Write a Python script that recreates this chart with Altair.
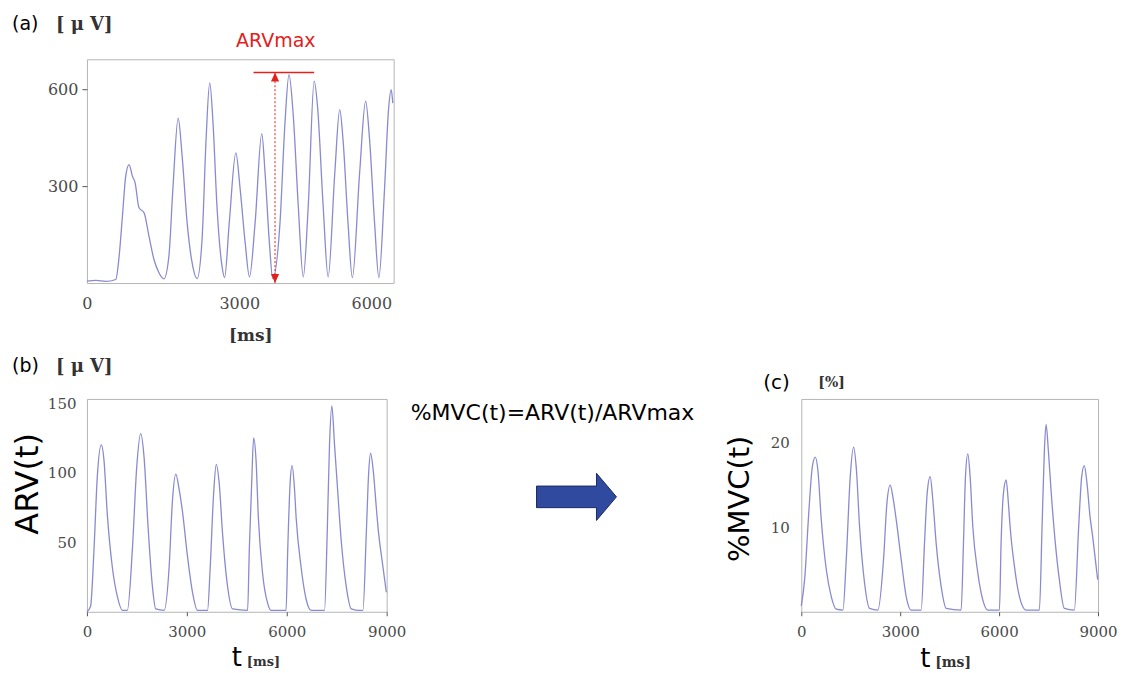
import altair as alt
import pandas as pd

# ---------------- data ----------------
# (a) raw EMG envelope, [uV] vs [ms]
a_t = [0, 176, 372, 568, 634, 699, 764, 830, 895, 947, 1026, 1124, 1222, 1320, 1418, 1516,
       1614, 1692, 1797, 1875, 1973, 2071, 2169, 2267, 2346, 2418, 2483, 2561, 2659, 2711,
       2803, 2933, 3018, 3116, 3201, 3312, 3443, 3508, 3593, 3659, 3802, 3900, 3979, 4064,
       4162, 4260, 4358, 4475, 4541, 4652, 4750, 4881, 4978, 5043, 5141, 5227, 5370, 5488,
       5566, 5664, 5749, 5860, 5939, 5991, 6023]
a_v = [6, 8, 5, 11, 83, 207, 331, 367, 331, 312, 233, 218, 145, 73, 32, 13,
       83, 290, 511, 393, 187, 63, 14, 134, 444, 620, 496, 237, 53, 17,
       187, 403, 290, 125, 19, 187, 463, 341, 125, 14, 187, 496, 645, 517,
       238, 19, 238, 625, 547, 238, 19, 341, 537, 444, 187, 17, 341, 563,
       444, 187, 17, 290, 537, 599, 557]
a_xticks = [0, 3000, 6000]
a_yticks = [300, 600]
arv_max = 652
arv_marker_t = 3704
arv_line_t = [3280, 4475]

# (b) ARV(t), [uV] vs t [ms]
b_t = [0, 110, 211, 311, 432, 512, 612, 763, 913, 1064, 1214,
       1365, 1495, 1615, 1716, 1836, 1967, 2067, 2318,
       2468, 2568, 2669, 2769, 2869, 3019, 3170, 3320, 3621,
       3702, 3802, 3883, 3973, 4073, 4224, 4374, 4825,
       4876, 4946, 5006, 5078, 5147, 5277, 5427, 5528, 5979,
       6030, 6100, 6161, 6231, 6281, 6431, 6582, 6732, 7134,
       7214, 7284, 7354, 7435, 7515, 7636, 7787, 7937, 8137, 8288,
       8388, 8458, 8518, 8599, 8689, 8739, 8890, 8990]
b_v = [0, 4, 44, 97, 120, 109, 70, 32, 11, 1, 1,
       45, 104, 128, 111, 61, 18, 2, 1,
       32, 80, 99, 88, 72, 40, 14, 1, 1,
       32, 84, 106, 92, 56, 18, 2, 1,
       45, 92, 125, 109, 68, 27, 6, 1, 1,
       45, 92, 105, 89, 68, 32, 9, 1, 1,
       56, 120, 148, 120, 92, 51, 18, 2, 1, 1,
       56, 99, 114, 101, 75, 61, 32, 14]
bc_xticks = [0, 3000, 6000, 9000]
b_yticks = [50, 100, 150]

# (c) %MVC(t), [%] vs t [ms]
c_t = [0, 101, 232, 333, 424, 505, 606, 758, 909, 1061, 1263,
       1364, 1485, 1586, 1667, 1768, 1919, 2071, 2323,
       2495, 2596, 2697, 2778, 2879, 3030, 3182, 3333, 3636,
       3737, 3818, 3909, 3990, 4091, 4242, 4394, 4848,
       4919, 4980, 5051, 5121, 5202, 5354, 5505, 5656, 6010,
       6060, 6131, 6212, 6283, 6333, 6464, 6616, 6818, 7222,
       7303, 7373, 7424, 7494, 7575, 7706, 7827, 7979, 8281,
       8414, 8505, 8584, 8666, 8757, 8838, 8990]
c_v = [0.7, 3.8, 12, 17.1, 18.3, 16.7, 10.9, 5, 1.8, 0.3, 0.2,
       6.2, 16, 19.5, 17.1, 10.1, 3.4, 0.4, 0.2,
       6.2, 12.8, 15, 13.6, 10.9, 6.2, 1.8, 0.2, 0.2,
       8.1, 14, 16, 13.2, 8.1, 3, 0.4, 0.2,
       8.1, 16, 18.7, 16, 10.1, 4.6, 1.4, 0.2, 0.2,
       8.1, 14, 15.6, 12.8, 10.1, 5.4, 1.8, 0.2, 0.2,
       10.1, 19.1, 22.2, 19.1, 14.4, 8.1, 3.8, 0.4, 0.2,
       10.1, 16, 17.3, 15.2, 11.3, 8.9, 3.8]
c_yticks = [10, 20]

# ---------------- styling ----------------
SANS = "DejaVu Sans"
SERIF = "DejaVu Serif"
LINE = "#8a8ad0"
RED = "#e3201b"
LABEL = "#4a4a4a"
UNIT = "#333333"
ARROW_UP = "M0,0L-0.9,2L0.9,2Z"
ARROW_DOWN = "M0,0L-0.9,-2L0.9,-2Z"
BLOCK_ARROW = "M-1,-0.27L0.5,-0.27L0.5,-0.59L1,0L0.5,0.59L0.5,0.27L-1,0.27Z"


def label(text, x, y, size, font=SANS, weight="normal", color="black",
          align="left", baseline="middle", angle=0):
    props = dict(fontSize=size, font=font, fontWeight=weight, color=color,
                 align=align, baseline=baseline)
    if angle:
        props["angle"] = angle
    return alt.Chart(pd.DataFrame({"label": [text]})).mark_text(**props).encode(
        text="label:N", x=alt.value(x), y=alt.value(y))


def axis(values, pad, tick, size, last_right=None):
    extra = {}
    if last_right is not None:
        extra["labelAlign"] = {"condition": {"test": f"datum.value >= {last_right}", "value": "right"},
                               "value": "center"}
    return alt.Axis(values=values, title="", format="d", grid=False, domain=False,
                    ticks=tick > 0, tickSize=tick, tickColor="#555555",
                    labelPadding=pad, labelFont=SERIF, labelFontSize=size,
                    labelColor=LABEL, labelFlush=False, **extra)


# ---------------- panel (a) ----------------
A_W, A_H = 307, 224
xa = alt.X("t:Q", scale=alt.Scale(domain=[0, 6040], nice=False, zero=False),
           axis=axis(a_xticks, 12, 0, 16, last_right=a_xticks[-1]))
ya = alt.Y("v:Q", scale=alt.Scale(domain=[0, 693], nice=False),
           axis=axis(a_yticks, 4, 5, 16))

line_a = alt.Chart(pd.DataFrame({"t": a_t, "v": a_v})).mark_line(
    color=LINE, strokeWidth=1.3, interpolate="monotone").encode(x=xa, y=ya)
hline = alt.Chart(pd.DataFrame({"t": [arv_line_t[0]], "t2": [arv_line_t[1]], "v": [arv_max]})).mark_rule(
    color=RED, strokeWidth=1.5).encode(x=xa, x2="t2:Q", y=ya)
vline = alt.Chart(pd.DataFrame({"t": [arv_marker_t], "v": [0], "v2": [arv_max]})).mark_rule(
    color=RED, strokeWidth=1, strokeDash=[2, 2]).encode(x=xa, y=ya, y2="v2:Q")
tip_up = alt.Chart(pd.DataFrame({"t": [arv_marker_t], "v": [arv_max]})).mark_point(
    shape=ARROW_UP, size=81, filled=True, color=RED, opacity=1).encode(x=xa, y=ya)
tip_down = alt.Chart(pd.DataFrame({"t": [arv_marker_t], "v": [0]})).mark_point(
    shape=ARROW_DOWN, size=81, filled=True, color=RED, opacity=1).encode(x=xa, y=ya)
anchor = alt.Chart(pd.DataFrame({"a": [0]})).mark_rect(opacity=0).encode(
    x=alt.value(-78), x2=alt.value(-77), y=alt.value(-50), y2=alt.value(-49))

panel_a = alt.layer(
    line_a, hline, vline, tip_up, tip_down, anchor,
    label("(a)", -75, -35, 19),
    label("[ μ V]", -31, -34, 18, font=SERIF, weight="bold", color=UNIT),
    label("ARVmax", 189, -18, 19, color=RED, align="center"),
    label("[ms]", 164, 277, 17, font=SERIF, weight="bold", color=UNIT, align="center"),
).properties(width=A_W, height=A_H)

# ---------------- panel (b) ----------------
B_W, B_H = 300, 213
xb = alt.X("t:Q", scale=alt.Scale(domain=[0, 9000], nice=False, zero=False),
           axis=axis(bc_xticks, 9, 4, 15))
yb = alt.Y("v:Q", scale=alt.Scale(domain=[0, 153], nice=False),
           axis=axis(b_yticks, 11, 0, 15))
line_b = alt.Chart(pd.DataFrame({"t": b_t, "v": b_v})).mark_line(
    color=LINE, strokeWidth=1.3, interpolate="monotone").encode(x=xb, y=yb)

panel_b = alt.layer(
    line_b,
    label("(b)", -75, -33, 19),
    label("[ μ V]", -31, -32, 18, font=SERIF, weight="bold", color=UNIT),
    label("ARV(t)", -59, 85, 32, align="center", angle=270),
    label("t", 145, 267, 26, baseline="alphabetic"),
    label("[ms]", 160, 267, 13, font=SERIF, weight="bold", color=UNIT, baseline="alphabetic"),
).properties(width=B_W, height=B_H)

# ---------------- middle (formula + arrow) ----------------
M_W = 415
panel_m = alt.layer(
    label("%MVC(t)=ARV(t)/ARVmax", 166, 14, 22, align="center"),
    alt.Chart(pd.DataFrame({"a": [0]})).mark_point(
        shape=BLOCK_ARROW, size=6400, filled=True, color="#2f4a9e", opacity=1,
        stroke="#1c2a60", strokeWidth=1).encode(x=alt.value(190), y=alt.value(98)),
).properties(width=M_W, height=B_H, view=alt.ViewBackground(strokeOpacity=0))

# ---------------- panel (c) ----------------
C_W = 297
xc = alt.X("t:Q", scale=alt.Scale(domain=[0, 9000], nice=False, zero=False),
           axis=axis(bc_xticks, 9, 4, 15))
yc = alt.Y("v:Q", scale=alt.Scale(domain=[0, 25.2], nice=False),
           axis=axis(c_yticks, 12, 0, 15))
line_c = alt.Chart(pd.DataFrame({"t": c_t, "v": c_v})).mark_line(
    color=LINE, strokeWidth=1.3, interpolate="monotone").encode(x=xc, y=yc)

panel_c = alt.layer(
    line_c,
    label("(c)", -38, -16, 20),
    label("[%]", 17, -16, 14, font=SERIF, weight="bold", color=UNIT),
    label("%MVC(t)", -61, 100, 29, align="center", angle=270),
    label("t", 119, 268, 26, baseline="alphabetic"),
    label("[ms]", 134, 268, 14, font=SERIF, weight="bold", color=UNIT, baseline="alphabetic"),
).properties(width=C_W, height=B_H)

bottom = alt.hconcat(panel_b, panel_m, panel_c, spacing=0, bounds="flush")
chart = alt.vconcat(panel_a, bottom, spacing=116, bounds="flush").properties(
    padding=0, background="white"
).configure_view(stroke="#b5b5b5", strokeWidth=1)

chart.save("out.html", embed_options={"renderer": "svg", "actions": False})
